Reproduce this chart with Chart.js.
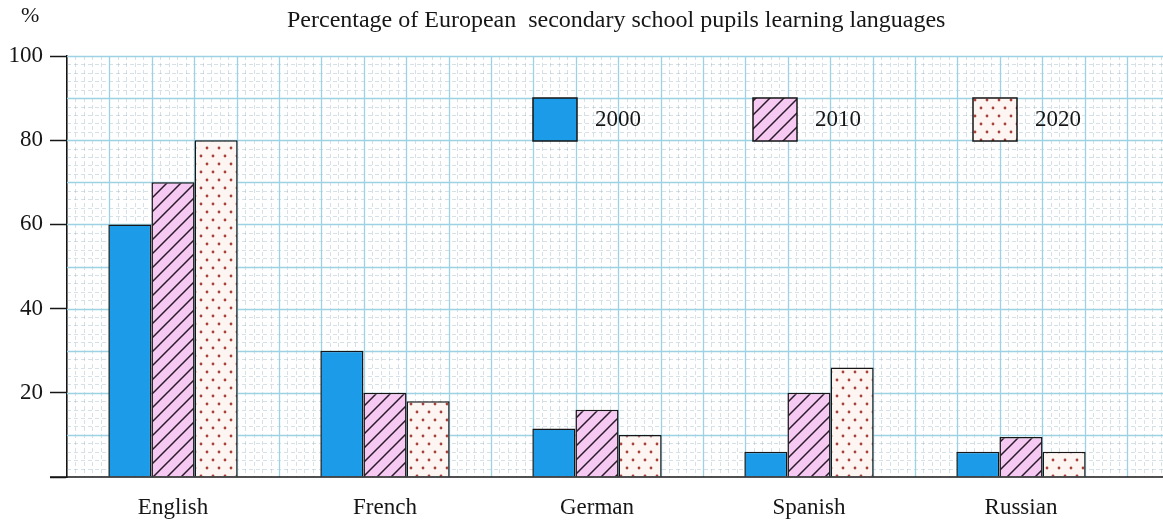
<!DOCTYPE html>
<html>
<head>
<meta charset="utf-8">
<script src="https://cdn.jsdelivr.net/npm/chart.js@4.4.1/dist/chart.umd.min.js"></script>
<style>
  html, body { margin: 0; padding: 0; background: #fff; }
  #wrap { width: 1163px; height: 522px; }
</style>
</head>
<body>
<div id="wrap"><canvas id="c" width="1163" height="522"></canvas></div>
<script>
// ---- data ----------------------------------------------------------------
var categories = ["English", "French", "German", "Spanish", "Russian"];
var years = ["2000", "2010", "2020"];
var values2000 = [60, 30, 11.5, 6, 6];
var values2010 = [70, 20, 16, 20, 9.5];
var values2020 = [80, 18, 10, 26, 6];
var yTicks = [20, 40, 60, 80, 100];

var TITLE = "Percentage of European  secondary school pupils learning languages";
var SERIF = "'Liberation Serif', 'Times New Roman', serif";
var INK = "#161616";

// ---- fill patterns -------------------------------------------------------
function hatchPattern() {
  var t = document.createElement("canvas");
  t.width = 14; t.height = 14;
  var g = t.getContext("2d");
  g.fillStyle = "#f5c9f1";
  g.fillRect(0, 0, 14, 14);
  g.strokeStyle = "#2a1a2a";
  g.lineWidth = 1.5;
  g.beginPath();
  g.moveTo(-2, 16); g.lineTo(16, -2);
  g.moveTo(-2, 2); g.lineTo(2, -2);
  g.moveTo(12, 16); g.lineTo(16, 12);
  g.stroke();
  return g.createPattern(t, "repeat");
}

function dotPattern() {
  var t = document.createElement("canvas");
  t.width = 12; t.height = 16;
  var g = t.getContext("2d");
  g.fillStyle = "#fdf5f2";
  g.fillRect(0, 0, 12, 16);
  g.fillStyle = "#a8403c";
  g.beginPath(); g.arc(3, 4, 1.4, 0, Math.PI * 2); g.fill();
  g.beginPath(); g.arc(9, 12, 1.4, 0, Math.PI * 2); g.fill();
  return g.createPattern(t, "repeat");
}

var fills = ["#1c9be8", hatchPattern(), dotPattern()];
var series = [values2000, values2010, values2020];

// ---- graph paper, baseline, title, legend --------------------------------
var paper = {
  id: "paper",
  beforeDatasetsDraw: function (chart) {
    var ctx = chart.ctx, a = chart.chartArea;
    var xs = chart.scales.x, ys = chart.scales.y;
    var right = chart.width;
    var step = (xs.right - xs.left) / 25;
    ctx.save();
    // minor
    ctx.strokeStyle = "rgba(120,160,180,0.45)";
    ctx.lineWidth = 0.7;
    ctx.setLineDash([4, 3]);
    ctx.beginPath();
    var i, x, y;
    for (i = 0; a.left + i * step / 5 <= right; i++) {
      if (i % 5 === 0) continue;
      x = Math.round(a.left + i * step / 5) + 0.5;
      ctx.moveTo(x, a.top); ctx.lineTo(x, a.bottom);
    }
    for (i = 0; i <= 100; i += 2) {
      if (i % 10 === 0) continue;
      y = Math.round(ys.getPixelForValue(i)) + 0.5;
      ctx.moveTo(a.left, y); ctx.lineTo(right, y);
    }
    ctx.stroke();
    // major
    ctx.setLineDash([]);
    ctx.strokeStyle = "#9dd2e4";
    ctx.lineWidth = 1.3;
    ctx.beginPath();
    for (i = 1; a.left + i * step <= right; i++) {
      x = Math.round(a.left + i * step) + 0.5;
      ctx.moveTo(x, a.top); ctx.lineTo(x, a.bottom);
    }
    for (i = 10; i <= 100; i += 10) {
      y = Math.round(ys.getPixelForValue(i)) + 0.5;
      ctx.moveTo(a.left, y); ctx.lineTo(right, y);
    }
    ctx.stroke();
    ctx.restore();
  },
  afterDatasetsDraw: function (chart) {
    var ctx = chart.ctx, a = chart.chartArea;
    var y0 = chart.scales.y.getPixelForValue(0);
    ctx.save();
    ctx.strokeStyle = INK;
    ctx.lineWidth = 1.6;
    ctx.beginPath();
    ctx.moveTo(a.left - 17, y0); ctx.lineTo(chart.width, y0);
    ctx.stroke();

    // legend
    ctx.font = "23px " + SERIF;
    ctx.textBaseline = "middle";
    ctx.textAlign = "left";
    for (var k = 0; k < years.length; k++) {
      var bx = 533 + k * 220, by = 98;
      ctx.fillStyle = fills[k];
      ctx.fillRect(bx, by, 44, 43);
      ctx.lineWidth = 1.5;
      ctx.strokeStyle = INK;
      ctx.strokeRect(bx, by, 44, 43);
      ctx.fillStyle = INK;
      ctx.fillText(years[k], bx + 62, by + 22);
    }

    // title and unit
    ctx.font = "24px " + SERIF;
    ctx.fillText(TITLE, 287, 21);
    ctx.font = "22px " + SERIF;
    ctx.fillText("%", 21, 16);
    ctx.restore();
  }
};

// ---- chart ---------------------------------------------------------------
new Chart(document.getElementById("c"), {
  type: "bar",
  data: {
    labels: categories,
    datasets: series.map(function (vals, i) {
      return {
        label: years[i],
        data: vals,
        backgroundColor: fills[i],
        borderColor: INK,
        borderWidth: 1.5,
        barPercentage: 1,
        categoryPercentage: 0.61
      };
    })
  },
  options: {
    responsive: false,
    animation: false,
    layout: { padding: { top: 56, right: 36, bottom: 0, left: 0 } },
    plugins: {
      legend: { display: false },
      tooltip: { enabled: false }
    },
    scales: {
      x: {
        grid: { display: false },
        border: { display: false },
        ticks: { color: INK, font: { family: SERIF, size: 23 }, padding: 9 },
        afterFit: function (s) { s.height = 45; }
      },
      y: {
        min: 0,
        max: 100,
        afterBuildTicks: function (s) {
          s.ticks = [{ value: 0 }].concat(yTicks.map(function (v) { return { value: v }; }));
        },
        ticks: {
          color: INK,
          font: { family: SERIF, size: 23 },
          padding: 7,
          callback: function (v) { return v === 0 ? "" : v; }
        },
        grid: {
          drawOnChartArea: false,
          drawTicks: true,
          tickLength: 17,
          tickColor: INK,
          tickWidth: 1.5
        },
        border: { display: true, color: INK, width: 1.6 },
        afterFit: function (s) { s.width = 67; }
      }
    }
  },
  plugins: [paper]
});
</script>
</body>
</html>
